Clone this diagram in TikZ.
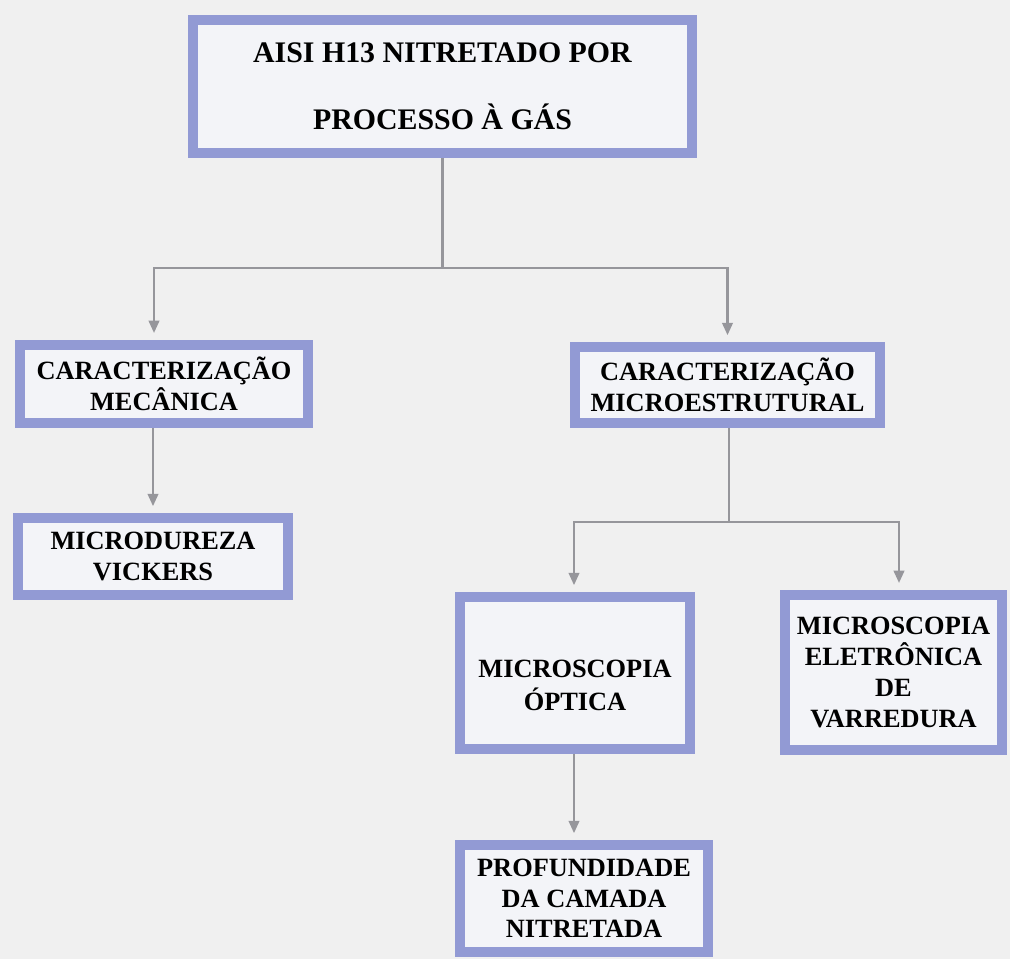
\documentclass[tikz,border=0pt]{standalone}
\usepackage{fontspec}
\setmainfont{Liberation Serif}
\usetikzlibrary{arrows.meta}
\definecolor{bgc}{RGB}{240,240,240}
\definecolor{boxborder}{RGB}{146,154,212}
\definecolor{boxfill}{RGB}{243,244,248}
\definecolor{linec}{RGB}{150,150,155}
\tikzset{
  flowbox/.style={draw=boxborder, fill=boxfill, line width=5.5pt, inner sep=0pt,
    align=center, font=\bfseries\fontsize{15}{17.5}\selectfont, text=black},
  conn/.style={draw=linec, line width=1.3pt},
  arr/.style={conn, -{Triangle[length=7pt,width=6pt]}, shorten >=4pt}
}
\begin{document}
\begin{tikzpicture}[x=0.02cm, y=-0.02cm]
\fill[bgc] (0,0) rectangle (1010,959);
\useasboundingbox (0,0) rectangle (1010,959);

\node[flowbox, minimum width=9.98cm, minimum height=2.66cm,
  font=\bfseries\fontsize{17}{38}\selectfont] (top) at (442.5,86.5)
  {AISI H13 NITRETADO POR\\PROCESSO À GÁS};
\node[flowbox, minimum width=5.76cm, minimum height=1.56cm] (mec) at (164,384)
  {CARACTERIZAÇÃO\\MECÂNICA};
\node[flowbox, minimum width=6.10cm, minimum height=1.52cm] (micro) at (727.5,385)
  {CARACTERIZAÇÃO\\MICROESTRUTURAL};
\node[flowbox, minimum width=5.40cm, minimum height=1.54cm] (vick) at (153,556.5)
  {MICRODUREZA\\VICKERS};
\node[flowbox, minimum width=4.60cm, minimum height=3.04cm,
  font=\bfseries\fontsize{15}{19}\selectfont] (opt) at (575,673)
  {\raisebox{-7pt}[\height][\depth]{\parbox{4.4cm}{\centering MICROSCOPIA\\ÓPTICA}}};
\node[flowbox, minimum width=4.34cm, minimum height=3.10cm] (mev) at (893.5,672.5)
  {MICROSCOPIA\\ELETRÔNICA\\DE\\VARREDURA};
\node[flowbox, minimum width=4.96cm, minimum height=2.14cm] (prof) at (584,898.5)
  {PROFUNDIDADE\\DA CAMADA\\NITRETADA};

\coordinate (j1) at (442.5,268);
\coordinate (j2) at (729,522);
\coordinate (mecin) at (154,340);
\coordinate (mevin) at (899,590);

\draw[conn] (top.south) -- (j1);
\draw[arr] (j1) -| (mecin);
\draw[arr] (j1) -| (micro.north);
\draw[arr] (vick.north |- mec.south) -- (vick.north);
\draw[conn] (micro.south -| j2) -- (j2);
\draw[arr] (j2) -| ([xshift=-0.02cm]opt.north);
\draw[arr] (j2) -| (mevin);
\draw[arr] ([xshift=-0.02cm]opt.south) -- ([xshift=-0.02cm]opt.south |- prof.north);
\end{tikzpicture}
\end{document}
